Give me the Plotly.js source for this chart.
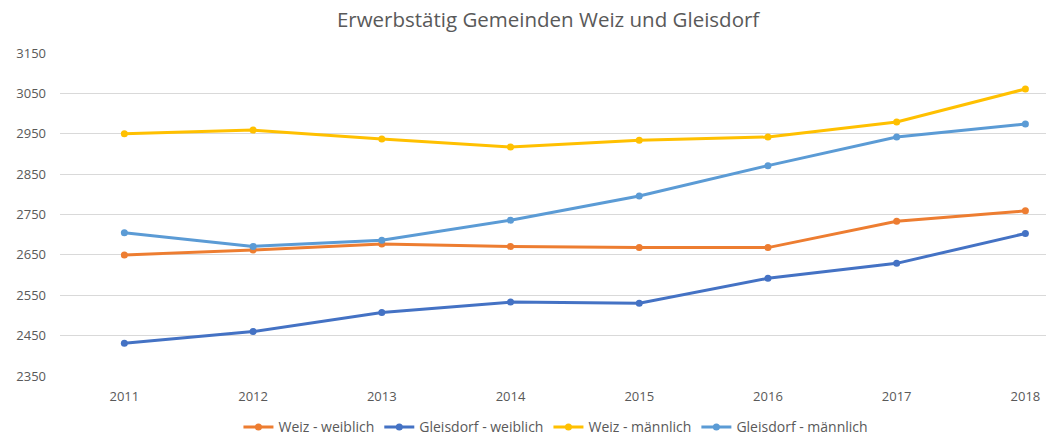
<!DOCTYPE html>
<html>
<head>
<meta charset="utf-8">
<script src="https://cdn.plot.ly/plotly-3.0.1.min.js"></script>
<style>html,body{margin:0;padding:0;background:#fff;}#chart{width:1046px;height:436px;}</style>
</head>
<body>
<div id="chart"></div>
<script>
var years = ["2011","2012","2013","2014","2015","2016","2017","2018"];
var weizWeiblich = [2650, 2662, 2677, 2671, 2668, 2668, 2733, 2759];
var gleisdorfWeiblich = [2431, 2460, 2507, 2533, 2530, 2592, 2629, 2703];
var weizMaennlich = [2950, 2959, 2937, 2917, 2934, 2942, 2979, 3061];
var gleisdorfMaennlich = [2705, 2671, 2686, 2736, 2796, 2871, 2942, 2974];
var yTicks = [2350, 2450, 2550, 2650, 2750, 2850, 2950, 3050, 3150];

var names = ["Weiz - weiblich", "Gleisdorf - weiblich", "Weiz - männlich", "Gleisdorf - männlich"];
var colors = ["#ED7D31", "#4472C4", "#FFC000", "#5B9BD5"];
var series = [weizWeiblich, gleisdorfWeiblich, weizMaennlich, gleisdorfMaennlich];

var traces = series.map(function(s, i) {
  return {
    x: years, y: s, name: names[i], type: "scatter", mode: "lines+markers",
    line: {color: colors[i], width: 3},
    marker: {color: colors[i], size: 7}
  };
});

var font = "Open Sans, sans-serif";
var layout = {
  width: 1046, height: 436,
  margin: {l: 60, r: 0, t: 53, b: 60},
  paper_bgcolor: "#fff", plot_bgcolor: "#fff",
  title: {text: "Erwerbstätig Gemeinden Weiz und Gleisdorf", x: 0.495, xref: "paper", y: 0.955, yanchor: "middle",
          font: {family: font, size: 20.5, color: "#595959"}},
  xaxis: {type: "category", range: [-0.5, 7.16], showgrid: false, zeroline: false, showline: false,
          ticks: "", ticklabelstandoff: 11, tickfont: {family: font, size: 13, color: "#595959"}},
  yaxis: {range: [2350, 3150], tickvals: yTicks, ticktext: yTicks.map(String), showgrid: true, gridcolor: "#D9D9D9", gridwidth: 1,
          zeroline: false, showline: false, ticks: "", ticklabelstandoff: 13,
          tickfont: {family: font, size: 13, color: "#595959"}},
  showlegend: true,
  legend: {orientation: "h", x: 0.5315, xanchor: "center", xref: "container", y: 0.02, yanchor: "middle", yref: "container",
           font: {family: font, size: 14, color: "#595959"}, itemwidth: 30, traceorder: "normal"}
};

Plotly.newPlot("chart", traces, layout, {displayModeBar: false, staticPlot: true});
</script>
</body>
</html>
